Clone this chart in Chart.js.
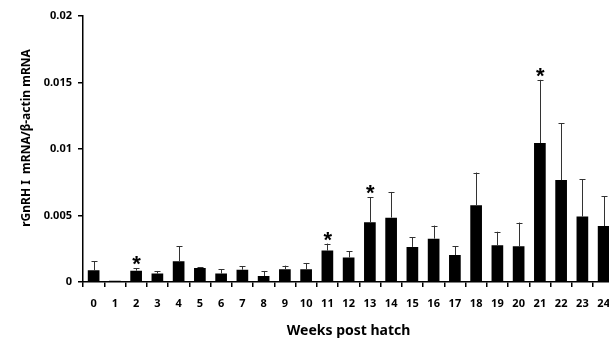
<!DOCTYPE html>
<html>
<head>
<meta charset="utf-8">
<script src="https://cdn.jsdelivr.net/npm/chart.js@4.4.1/dist/chart.umd.min.js"></script>
<style>
html, body { margin:0; padding:0; overflow:hidden; background:#fff; width:609px; height:339px; }
#wrap { width:620px; height:339px; }
</style>
</head>
<body>
<div id="wrap"><canvas id="c" width="620" height="339"></canvas></div>
<script>
const weeks = ['0','1','2','3','4','5','6','7','8','9','10','11','12','13','14','15','16','17','18','19','20','21','22','23','24'];
const meanValues = [0.00088,0.0001,0.00085,0.00063,0.00156,0.00106,0.00063,0.00092,0.00045,0.00096,0.00096,0.00236,0.00184,0.0045,0.00484,0.00264,0.00326,0.00203,0.00577,0.00276,0.00268,0.01045,0.00766,0.00492,0.00421];
const semValues = [0.00068,0,0.00018,0.0002,0.00114,0.00004,0.00032,0.00025,0.00038,0.00027,0.00047,0.00053,0.00046,0.00186,0.00193,0.00071,0.00098,0.00065,0.00246,0.00102,0.00179,0.00475,0.00428,0.00282,0.00225];
const significantWeeks = ['2','11','13','21'];
const yTickLabels = ['0','0.005','0.01','0.015','0.02'];
const yTitle = 'rGnRH I  mRNA/\u03B2-actin mRNA';
const xTitle = 'Weeks post hatch';

const FONT = "'Noto Sans', 'Open Sans', sans-serif";

const errPlugin = {
  id: 'errbars',
  afterDatasetsDraw(chart) {
    const ctx = chart.ctx;
    const xs = chart.scales.x, ys = chart.scales.y;
    ctx.save();
    meanValues.forEach((m, i) => {
      const x = xs.getPixelForValue(i);
      const y0 = ys.getPixelForValue(m);
      const y1 = ys.getPixelForValue(m + semValues[i]);
      if (semValues[i] > 0) {
        ctx.strokeStyle = '#333';
        ctx.lineWidth = 1;
        ctx.beginPath();
        ctx.moveTo(Math.round(x) + 0.5, y0);
        ctx.lineTo(Math.round(x) + 0.5, y1);
        ctx.stroke();
        ctx.beginPath();
        ctx.moveTo(Math.round(x) - 2.5, Math.round(y1) + 0.5);
        ctx.lineTo(Math.round(x) + 3.5, Math.round(y1) + 0.5);
        ctx.stroke();
      }
      if (significantWeeks.includes(weeks[i])) {
        ctx.fillStyle = '#000';
        ctx.font = "bold 22px 'Liberation Sans', sans-serif";
        ctx.textAlign = 'center';
        ctx.textBaseline = 'alphabetic';
        ctx.fillText('*', x + 0.5, y1 + 3);
      }
    });
    // y title
    ctx.save();
    ctx.translate(27, 138);
    ctx.rotate(-Math.PI / 2);
    ctx.fillStyle = '#000';
    ctx.font = "bold 12px " + FONT;
    ctx.textAlign = 'center';
    ctx.textBaseline = 'middle';
    ctx.fillText(yTitle, 0, 0);
    ctx.restore();
    ctx.restore();
  }
};

new Chart(document.getElementById('c'), {
  type: 'bar',
  data: {
    labels: weeks,
    datasets: [{
      data: meanValues,
      backgroundColor: '#000',
      borderWidth: 0,
      barPercentage: 0.55,
      categoryPercentage: 1.0
    }]
  },
  options: {
    responsive: false,
    animation: false,
    events: [],
    layout: { padding: { top: 16, right: 4, left: 0, bottom: 0 } },
    plugins: { legend: { display: false }, tooltip: { enabled: false } },
    scales: {
      x: {
        grid: { display: true, drawOnChartArea: false, drawTicks: true, tickLength: 5, color: '#000', lineWidth: 1.5, offset: true },
        border: { display: true, color: '#000', width: 1.5 },
        ticks: { color: '#000', font: { family: FONT, size: 11, weight: 'bold' }, padding: 10, maxRotation: 0, autoSkip: false },
        title: { display: true, text: xTitle, color: '#000', font: { family: FONT, size: 14, weight: 'bold' }, padding: { top: 0, bottom: 0 } },
        afterFit(s) { s.height = 57; }
      },
      y: {
        min: 0, max: 0.02,
        grid: { display: true, drawOnChartArea: false, drawTicks: true, tickLength: 5, color: '#000', lineWidth: 1.5 },
        border: { display: true, color: '#000', width: 1.5 },
        ticks: {
          stepSize: 0.005,
          color: '#000',
          padding: 6,
          font: { family: FONT, size: 11, weight: 'bold' },
          callback: (v, i) => yTickLabels[i]
        },
        afterFit(s) { s.width = 83; }
      }
    }
  },
  plugins: [errPlugin]
});
</script>
</body>
</html>
